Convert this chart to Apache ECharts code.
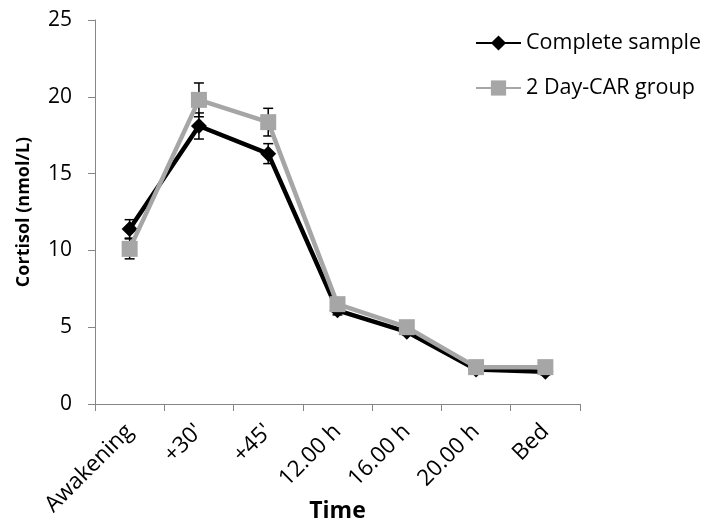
<!DOCTYPE html>
<html style="height: 100%">
<head>
  <meta charset="utf-8">
</head>
<body style="height: 100%; margin: 0; background: #fff">
  <div id="container" style="width: 707px; height: 524px"></div>
  <script src="https://cdn.jsdelivr.net/npm/echarts@6/dist/echarts.min.js"></script>
  <script type="text/javascript">
    // data
    var categories = ['Awakening', "+30'", "+45'", '12.00 h', '16.00 h', '20.00 h', 'Bed'];
    var completeSample = [11.4, 18.1, 16.3, 6.1, 4.7, 2.25, 2.1];
    var completeErr = [0.6, 0.85, 0.65, 0.3, 0.2, 0.15, 0.2];
    var carGroup = [10.1, 19.8, 18.35, 6.5, 5.0, 2.4, 2.4];
    var carErr = [0.65, 1.1, 0.9, 0.3, 0.2, 0.15, 0.15];
    var yTicks = [0, 5, 10, 15, 20, 25];

    var font = '"Open Sans", sans-serif';

    function errData(vals, errs) {
      return vals.map(function (v, i) { return [i, v - errs[i], v + errs[i]]; });
    }

    // error bars with caps
    function errSeries(vals, errs, color) {
      return {
        type: 'custom',
        silent: true,
        z: 1,
        data: errData(vals, errs),
        renderItem: function (params, api) {
          var lo = api.coord([api.value(0), api.value(1)]);
          var hi = api.coord([api.value(0), api.value(2)]);
          var w = 5;
          var st = { stroke: color, lineWidth: 1.5 };
          return {
            type: 'group',
            children: [
              { type: 'line', shape: { x1: lo[0], y1: lo[1], x2: hi[0], y2: hi[1] }, style: st },
              { type: 'line', shape: { x1: lo[0] - w, y1: lo[1], x2: lo[0] + w, y2: lo[1] }, style: st },
              { type: 'line', shape: { x1: hi[0] - w, y1: hi[1], x2: hi[0] + w, y2: hi[1] }, style: st }
            ]
          };
        }
      };
    }

    var chart = echarts.init(document.getElementById('container'));
    var option = {
      animation: false,
      grid: { left: 95, right: 127, top: 20, bottom: 120, outerBoundsMode: 'none', containLabel: false },
      legend: {
        orient: 'vertical',
        left: 470,
        top: 27,
        itemWidth: 45,
        itemHeight: 19,
        itemGap: 23,
        textStyle: { fontFamily: font, fontSize: 21.5, color: '#000' },
        data: ['Complete sample', '2 Day-CAR group']
      },
      xAxis: {
        type: 'category',
        data: categories,
        boundaryGap: true,
        name: 'Time',
        nameLocation: 'middle',
        nameGap: 96,
        nameMoveOverlap: false,
        nameTextStyle: { fontFamily: font, fontSize: 23, fontWeight: 'bold', color: '#000' },
        axisLine: { lineStyle: { color: '#868686', width: 1 } },
        axisTick: { show: true, length: 7, alignWithLabel: false, lineStyle: { color: '#868686' } },
        axisLabel: { rotate: 45, fontFamily: font, fontSize: 22.5, color: '#000', margin: 24 }
      },
      yAxis: {
        type: 'value',
        min: 0,
        max: 25,
        interval: 5,
        name: 'Cortisol (nmol/L)',
        nameLocation: 'middle',
        nameGap: 62,
        nameMoveOverlap: false,
        nameTextStyle: { fontFamily: font, fontSize: 18, fontWeight: 'bold', color: '#000' },
        axisLine: { show: true, lineStyle: { color: '#868686', width: 1 } },
        axisTick: { show: true, length: 7, lineStyle: { color: '#868686' } },
        splitLine: { show: false },
        axisLabel: {
          fontFamily: font, fontSize: 21, color: '#000', margin: 23,
          formatter: function (v) { return yTicks.indexOf(v) >= 0 ? String(v) : ''; }
        }
      },
      series: [
        errSeries(completeSample, completeErr, '#000'),
        {
          name: 'Complete sample',
          type: 'line',
          z: 2,
          data: completeSample,
          symbol: 'diamond',
          symbolSize: 16,
          lineStyle: { color: '#000', width: 4.5 },
          itemStyle: { color: '#000' }
        },
        errSeries(carGroup, carErr, '#000'),
        {
          name: '2 Day-CAR group',
          type: 'line',
          z: 3,
          data: carGroup,
          symbol: 'rect',
          symbolSize: 16,
          lineStyle: { color: '#a6a6a6', width: 4.5 },
          itemStyle: { color: '#a6a6a6' }
        }
      ]
    };
    chart.setOption(option);
  </script>
</body>
</html>
